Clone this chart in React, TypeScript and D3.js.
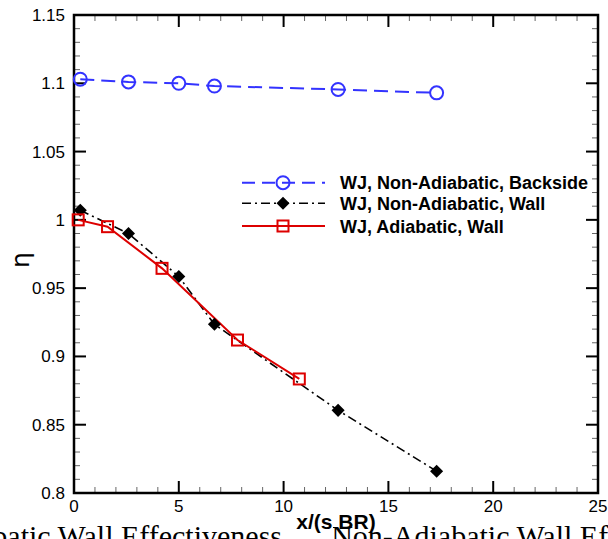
import React from "react";
import * as d3 from "d3";

const blueX = [0.3, 2.6, 5.0, 6.7, 12.6, 17.3];
const blueY = [1.103, 1.101, 1.1, 1.098, 1.0955, 1.093];
const blackX = [0.3, 2.6, 5.0, 6.7, 12.6, 17.3];
const blackY = [1.007, 0.99, 0.9585, 0.9235, 0.8605, 0.816];
const redX = [0.2, 1.6, 4.2, 7.8, 10.75];
const redY = [1.0, 0.995, 0.9645, 0.912, 0.8835];
const xTicks = [0, 5, 10, 15, 20, 25];
const yTicks = [0.8, 0.85, 0.9, 0.95, 1.0, 1.05, 1.1, 1.15];
const yTickLabels = ["0.8", "0.85", "0.9", "0.95", "1", "1.05", "1.1", "1.15"];
const legendLabels = [
  "WJ, Non-Adiabatic, Backside",
  "WJ, Non-Adiabatic, Wall",
  "WJ, Adiabatic, Wall",
];

const W = 608, H = 539;
const L = 74, R = 598, T = 15, B = 493;
const BLUE = "#3333ff", RED = "#dd0000", BLACK = "#000";
const FONT = "'Liberation Sans', Arial, Helvetica, sans-serif";

export default function App() {
  const x = d3.scaleLinear().domain([0, 25]).range([L, R]);
  const y = d3.scaleLinear().domain([0.8, 1.15]).range([B, T]);
  const line = d3.line<[number, number]>().x((d) => x(d[0])).y((d) => y(d[1]));
  const zip = (a: number[], b: number[]) => a.map((v, i) => [v, b[i]] as [number, number]);
  const blue = zip(blueX, blueY);
  const black = zip(blackX, blackY);
  const red = zip(redX, redY);
  const xMinor = d3.range(0, 26, 1).filter((v) => v % 5 !== 0);
  const yMinor = d3.range(80, 116, 1).map((v) => v / 100).filter((v) => Math.round(v * 100) % 5 !== 0);
  const diamond = d3.symbol().type(d3.symbolSquare).size(85)();

  const circle = (cx: number, cy: number, k: string) => (
    <circle key={k} cx={cx} cy={cy} r={6.5} fill="none" stroke={BLUE} strokeWidth={2} />
  );
  const square = (cx: number, cy: number, k: string) => (
    <rect key={k} x={cx - 5.5} y={cy - 5.5} width={11} height={11} fill="none" stroke={RED} strokeWidth={2} />
  );
  const dia = (cx: number, cy: number, k: string) => (
    <path key={k} d={diamond as string} transform={`translate(${cx},${cy}) rotate(45)`} fill={BLACK} />
  );

  const legY = [182.7, 203.3, 226];
  const legX0 = 242, legX1 = 325, legXm = 283, legText = 340;

  return (
    <svg width={W} height={H} style={{ position: "absolute", left: 0, top: 0, background: "#fff" }}>
      <rect x={0} y={0} width={W} height={H} fill="#fff" />
      {/* caption from the page, cut off */}
      <text x={-66} y={546} fontFamily="'Liberation Serif', 'Times New Roman', serif" fontSize={30} fill="#000">
        Adiabatic Wall Effectiveness vs. Non-Adiabatic Wall Effectiveness
      </text>
      <rect x={286} y={505} width={47} height={34} fill="#fff" />
      {/* minor ticks */}
      {xMinor.map((v) => (
        <g key={"xm" + v} stroke="#666" strokeWidth={1}>
          <line x1={x(v)} x2={x(v)} y1={B} y2={B - 6} />
          <line x1={x(v)} x2={x(v)} y1={T} y2={T + 6} />
        </g>
      ))}
      {yMinor.map((v) => (
        <g key={"ym" + v} stroke="#666" strokeWidth={1}>
          <line x1={L} x2={L + 6} y1={y(v)} y2={y(v)} />
          <line x1={R} x2={R - 6} y1={y(v)} y2={y(v)} />
        </g>
      ))}
      {/* major ticks */}
      {xTicks.map((v) => (
        <g key={"xM" + v} stroke="#000" strokeWidth={2}>
          <line x1={x(v)} x2={x(v)} y1={B} y2={B - 12} />
          <line x1={x(v)} x2={x(v)} y1={T} y2={T + 12} />
        </g>
      ))}
      {yTicks.map((v) => (
        <g key={"yM" + v} stroke="#000" strokeWidth={2}>
          <line x1={L} x2={L + 12} y1={y(v)} y2={y(v)} />
          <line x1={R} x2={R - 12} y1={y(v)} y2={y(v)} />
        </g>
      ))}
      <rect x={L} y={T} width={R - L} height={B - T} fill="none" stroke="#000" strokeWidth={2.5} />
      {/* tick labels */}
      {xTicks.map((v) => (
        <text key={"xl" + v} x={x(v)} y={512} textAnchor="middle" fontFamily={FONT} fontSize={17} fill="#000">
          {v}
        </text>
      ))}
      {yTicks.map((v, i) => (
        <text key={"yl" + v} x={65} y={y(v) + 6} textAnchor="end" fontFamily={FONT} fontSize={17} fill="#000">
          {yTickLabels[i]}
        </text>
      ))}
      {/* axis titles */}
      <text x={(L + R) / 2} y={529} textAnchor="middle" fontFamily={FONT} fontSize={21} fontWeight="bold" fill="#000">
        x/(s BR)
      </text>
      <text transform="translate(29,260) rotate(-90)" textAnchor="middle" fontFamily="'DejaVu Sans', sans-serif" fontSize={25} fill="#000">
        η
      </text>
      {/* series */}
      <path d={line(blue) as string} fill="none" stroke={BLUE} strokeWidth={2} strokeDasharray="14 7" />
      <path d={line(black) as string} fill="none" stroke={BLACK} strokeWidth={1.6} strokeDasharray="9 4 2 4" />
      <path d={line(red) as string} fill="none" stroke={RED} strokeWidth={2} />
      {blue.map((d, i) => circle(x(d[0]), y(d[1]), "c" + i))}
      {black.map((d, i) => dia(x(d[0]), y(d[1]), "d" + i))}
      {red.map((d, i) => square(x(d[0]), y(d[1]), "s" + i))}
      {/* legend */}
      <line x1={legX0} x2={legX1} y1={legY[0]} y2={legY[0]} stroke={BLUE} strokeWidth={2} strokeDasharray="13 7" />
      {circle(legXm, legY[0], "lc")}
      <line x1={legX0} x2={legX1} y1={legY[1]} y2={legY[1]} stroke={BLACK} strokeWidth={1.6} strokeDasharray="9 4 2 4" />
      {dia(legXm, legY[1], "ld")}
      <line x1={legX0} x2={legX1} y1={legY[2]} y2={legY[2]} stroke={RED} strokeWidth={2} />
      {square(legXm, legY[2], "ls")}
      {legendLabels.map((t, i) => (
        <text key={t} x={legText} y={legY[i] + 6.5} fontFamily={FONT} fontSize={18} fontWeight="bold" fill="#000">
          {t}
        </text>
      ))}
    </svg>
  );
}
